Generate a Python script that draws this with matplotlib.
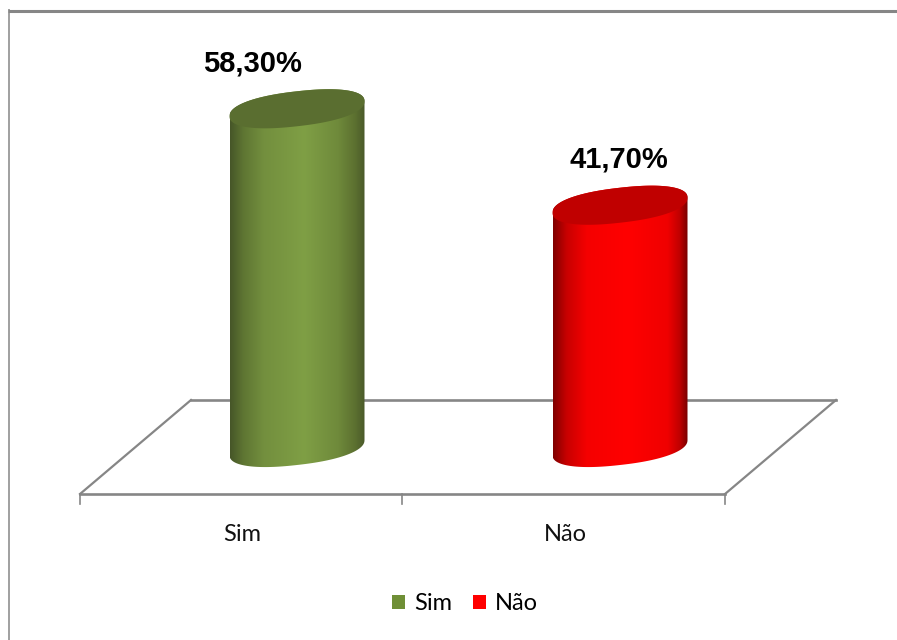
import numpy as np
import matplotlib
matplotlib.use("Agg")
import matplotlib.pyplot as plt
from matplotlib.colors import LinearSegmentedColormap
from matplotlib.patches import Patch, Polygon

categories = ["Sim", "Não"]
values = [58.30, 41.70]
value_labels = ["58,30%", "41,70%"]
top_colors = ["#5a6e30", "#c00000"]
side_stops = [
    [(0.0, "#465628"), (0.1, "#5f7633"), (0.25, "#738f3e"), (0.55, "#7f9f45"),
     (0.8, "#6f8a3b"), (0.93, "#5c7030"), (1.0, "#4a5a2a")],
    [(0.0, "#800000"), (0.1, "#c80000"), (0.25, "#f50000"), (0.55, "#ff0000"),
     (0.85, "#f00000"), (0.94, "#c00000"), (1.0, "#780000")],
]
legend_colors = ["#6f8f36", "#ff0000"]

W, H = 897, 640
PX_PER_UNIT = 5.81
BASE_PX = 447.5
CENTER_PX = [297, 620]
CAT_SPACING = CENTER_PX[1] - CENTER_PX[0]
HALF_WIDTH = 67.5 / CAT_SPACING
TILT = 7.5 / PX_PER_UNIT
MINOR = 17.5 / PX_PER_UNIT
LABEL_SHIFT = [-45 / CAT_SPACING, -1 / CAT_SPACING]
CATEGORY_SHIFT = [-55 / CAT_SPACING, -55 / CAT_SPACING]

fig = plt.figure(figsize=(W / 100, H / 100), dpi=100, facecolor="white")

# Pixel-space layer for the outer frame, the floor and its ticks
bg = fig.add_axes([0, 0, 1, 1])
bg.set_xlim(0, W)
bg.set_ylim(H, 0)
bg.axis("off")
GREY = "#868686"
bg.plot([8, W], [10.5, 10.5], color=GREY, lw=2.2, solid_capstyle="butt")
bg.plot([8.5, 8.5], [9, H], color=GREY, lw=1.1, solid_capstyle="butt")
bg.plot([191, 836], [400, 400], color=GREY, lw=1.9)
bg.plot([80, 725], [494, 494], color=GREY, lw=1.9)
bg.plot([191, 80], [400, 494], color=GREY, lw=1.6)
bg.plot([836, 725], [400, 494], color=GREY, lw=1.6)
for tick_x in (80, 402, 725):
    bg.plot([tick_x, tick_x], [494, 504], color=GREY, lw=1.2)

# Value-scaled layer holding the cylinders
ax = fig.add_axes([0, 0, 1, 1], facecolor="none")
ax.set_xlim(-CENTER_PX[0] / CAT_SPACING, (W - CENTER_PX[0]) / CAT_SPACING)
ax.set_ylim(-(H - BASE_PX) / PX_PER_UNIT, BASE_PX / PX_PER_UNIT)
ax.axis("off")


def rim(center, level, theta):
    """Points on the tilted, slightly squared-off rim of a cylinder."""
    c = np.sign(np.cos(theta)) * np.abs(np.cos(theta)) ** 0.88
    s = np.sign(np.sin(theta)) * np.abs(np.sin(theta)) ** 0.88
    return center + HALF_WIDTH * c, level + MINOR * s + TILT * c


for i, (value, stops, top) in enumerate(zip(values, side_stops, top_colors)):
    cmap = LinearSegmentedColormap.from_list(f"side{i}", stops)
    lo = i - HALF_WIDTH
    hi = i + HALF_WIDTH
    gradient = np.linspace(0, 1, 256).reshape(1, -1)
    image = ax.imshow(gradient, cmap=cmap, aspect="auto", zorder=2,
                      extent=(lo, hi, -8, value + 8), interpolation="bilinear")

    upper = np.linspace(np.pi, 0, 80)
    lower = np.linspace(0, -np.pi, 80)
    xt, yt = rim(i, value, upper)
    xb, yb = rim(i, 0, lower)
    body = np.column_stack([np.r_[xt, xb], np.r_[yt, yb]])
    image.set_clip_path(Polygon(body, closed=True, transform=ax.transData))

    full = np.linspace(0, 2 * np.pi, 160)
    xc, yc = rim(i, value, full)
    ax.fill(xc, yc, color=top, zorder=3, lw=0)

    ax.text(i + LABEL_SHIFT[i], value + MINOR + 28 / PX_PER_UNIT, value_labels[i],
            ha="center", va="center", zorder=4,
            family="Liberation Sans", weight="bold", fontsize=21, color="black")
    ax.text(i + CATEGORY_SHIFT[i], -87 / PX_PER_UNIT, categories[i],
            ha="center", va="center", family="Lato", fontsize=17, color="#111111")

handles = [Patch(facecolor=c, edgecolor="none", label=n)
           for c, n in zip(legend_colors, categories)]
ax.legend(handles=handles, loc="center", bbox_to_anchor=(465 / W, 1 - 604 / H),
          ncol=2, frameon=False, prop={"family": "Lato", "size": 17},
          handlelength=0.55, handleheight=0.55, handletextpad=0.4,
          columnspacing=0.85)

fig.savefig("out.png", dpi=100)
